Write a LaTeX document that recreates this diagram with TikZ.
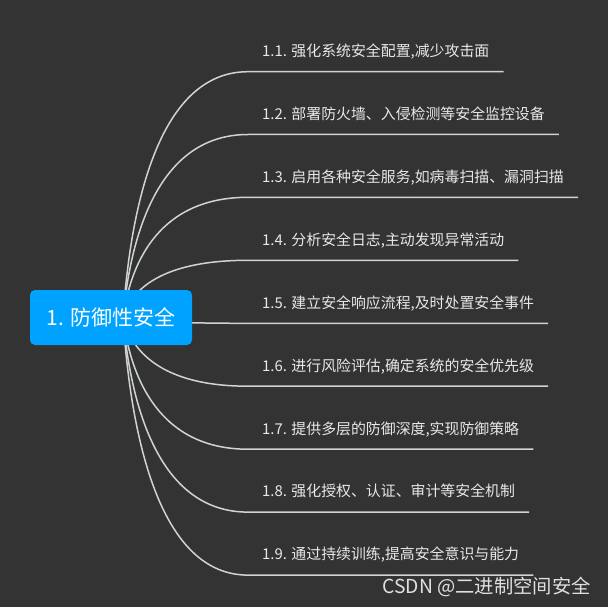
\documentclass[tikz,border=0pt]{standalone}
\usepackage{fontspec}
\setmainfont{Noto Sans CJK SC}
\usetikzlibrary{calc,backgrounds}
\definecolor{bg}{HTML}{333333}
\definecolor{rootblue}{HTML}{00A2FF}
\definecolor{linecol}{HTML}{D0D3D6}
\definecolor{txt}{HTML}{E8E8E8}
\begin{document}
\begin{tikzpicture}[x=1pt,y=-1pt,
  rootbox/.style={fill=rootblue, rounded corners=5pt, minimum width=162pt, minimum height=55pt, inner sep=0pt, text=white, font=\fontsize{21}{25}\selectfont},
  leaf/.style={anchor=south west, inner xsep=14pt, inner ysep=15pt, text depth=0pt, text=txt, font=\fontsize{14.9}{17}\selectfont},
  branch/.style={draw=linecol, line width=1.5pt},
  mark text/.style={anchor=base west, text=white, opacity=0.85, font=\fontsize{19.3}{22}\selectfont}]
\begin{scope}[on background layer]
\fill[bg] (0,0) rectangle (608,607);
\end{scope}
\useasboundingbox (0,0) rectangle (608,607);
\node[rootbox] (root) at (111,317.5) {1. 防御性安全};
\node[leaf] (b1) at (248,71.7) {1.1. 强化系统安全配置,减少攻击面};
\node[leaf] (b2) at (248,134.5) {1.2. 部署防火墙、入侵检测等安全监控设备};
\node[leaf] (b3) at (248,197.3) {1.3. 启用各种安全服务,如病毒扫描、漏洞扫描};
\node[leaf] (b4) at (248,260.3) {1.4. 分析安全日志,主动发现异常活动};
\node[leaf] (b5) at (248,323.3) {1.5. 建立安全响应流程,及时处置安全事件};
\node[leaf] (b6) at (248,386.2) {1.6. 进行风险评估,确定系统的安全优先级};
\node[leaf] (b7) at (248,449.2) {1.7. 提供多层的防御深度,实现防御策略};
\node[leaf] (b8) at (248,512.1) {1.8. 强化授权、认证、审计等安全机制};
\node[leaf] (b9) at (248,575.1) {1.9. 通过持续训练,提高安全意识与能力};
\coordinate (s) at ([xshift=12pt]root.center);
\begin{scope}[on background layer]
\foreach \i in {1,...,9}{
  \draw[branch] (s) .. controls ($(s)!0.48!(s |- b\i.south west) + (8,0)$) and ($(s |- b\i.south west) + (38,0)$) .. (b\i.south west) -- (b\i.south east);
}
\end{scope}
\node[mark text] (wm) at (379,593) {CSDN @二进制空间安全};
\end{tikzpicture}
\end{document}
